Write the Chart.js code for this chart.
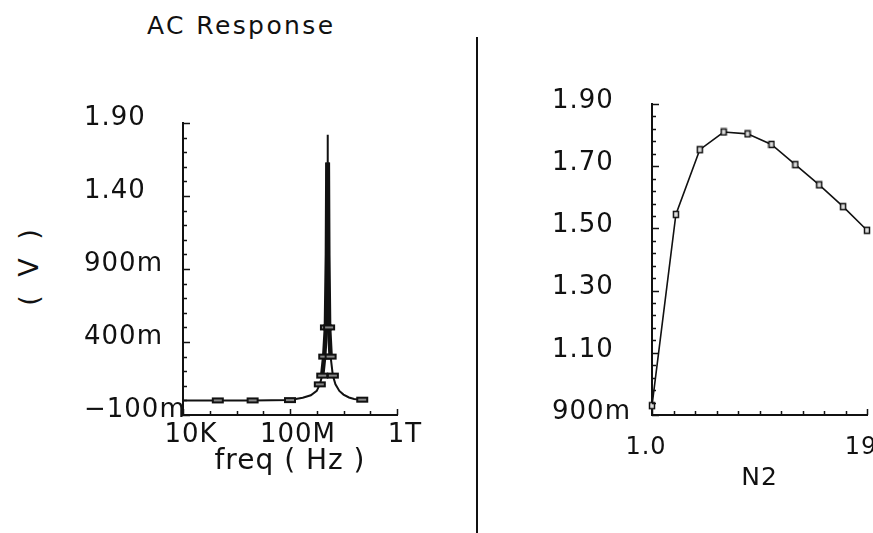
<!DOCTYPE html>
<html>
<head>
<meta charset="utf-8">
<script src="https://cdn.jsdelivr.net/npm/chart.js@4.4.1/dist/chart.umd.min.js"></script>
<style>
  body { margin: 0; background: #fff; width: 873px; height: 533px; position: relative; overflow: hidden;
         font-family: 'DejaVu Sans', sans-serif; color: #111; }
  #title { position: absolute; left: 147px; top: 11px; font-size: 25px; line-height: 30px; letter-spacing: 2.4px; }
  #ylabel { position: absolute; left: 28px; top: 265px; font-size: 27px; letter-spacing: 5px; white-space: pre;
            transform: translate(-50%, -50%) rotate(-90deg); }
  #divider { position: absolute; left: 476px; top: 37px; width: 2px; height: 496px; background: #111; }
  #ac-chart { position: absolute; left: 0; top: 0; }
  #n2-chart { position: absolute; left: 480px; top: 0; }
</style>
</head>
<body>
<div id="title">AC Response</div>
<div id="ylabel">( V )</div>
<div id="divider"></div>
<canvas id="ac-chart" width="470" height="533"></canvas>
<canvas id="n2-chart" width="393" height="533"></canvas>
<script>
// AC sweep: frequency (Hz) and output voltage (V)
const freqHz  = [1e4, 2e5, 4e6, 1e8, 3e8, 6e8, 1.0e9, 1.3e9, 1.6e9, 1.9e9, 2.2e9, 2.4e9, 2.5e9,
                 2.55e9, 2.6e9, 2.7e9, 2.9e9, 3.3e9, 4.0e9, 5e9, 7e9, 1e10, 1.6e10, 2.5e10, 5e10];
const acVolts = [0.0, 0.0, 0.0, 0.002, 0.018, 0.035, 0.065, 0.11, 0.17, 0.30, 0.50, 1.0, 1.63,
                 1.82, 1.63, 1.0, 0.50, 0.30, 0.17, 0.11, 0.065, 0.04, 0.02, 0.01, 0.005];
// sweep points that carry a marker
const acMarked = [2e5, 4e6, 1e8, 1.3e9, 1.6e9, 1.9e9, 2.2e9, 2.9e9, 3.3e9, 4.0e9, 5e10];
// band around the resonance drawn with a heavier trace
const acHeavyBand = [1.5e9, 3.5e9];

const freqTicks      = [1e4, 1e5, 1e6, 1e7, 1e8, 1e9, 1e10, 1e11, 1e12];
const freqTickLabels = ['10K', '', '', '', '100M', '', '', '', '1T'];
const acVoltTicks    = [1.9, 1.4, 0.9, 0.4, -0.1];
const acVoltLabels   = ['1.90', '1.40', '900m', '400m', '\u2212100m'];

// peak voltage vs N2
const n2Values = [1, 3, 5, 7, 9, 11, 13, 15, 17, 19];
const n2Volts  = [0.93, 1.545, 1.753, 1.81, 1.804, 1.77, 1.705, 1.64, 1.57, 1.494];
const n2Ticks       = [1, 19];
const n2TickLabels  = ['1.0', '19'];
const n2VoltTicks   = [1.9, 1.7, 1.5, 1.3, 1.1, 0.9];
const n2VoltLabels  = ['1.90', '1.70', '1.50', '1.30', '1.10', '900m'];

Chart.defaults.font.family = "'DejaVu Sans', sans-serif";
Chart.defaults.font.size = 26;
Chart.defaults.color = '#111';

function lookup(values, labels, v) {
  const i = values.findIndex(t => Math.abs(t - v) < 1e-6 * Math.max(1, Math.abs(t)));
  return i >= 0 ? labels[i] : '';
}

// hollow rectangle used as point marker
function makeMarker(w, h, lw, fill) {
  const c = document.createElement('canvas');
  c.width = w + 2 * lw;
  c.height = h + 2 * lw;
  const g = c.getContext('2d');
  g.fillStyle = fill;
  g.fillRect(lw, lw, w, h);
  g.strokeStyle = '#111';
  g.lineWidth = lw;
  g.strokeRect(lw, lw, w, h);
  return c;
}

// tick marks pointing into the plot, longer where a label sits
const inwardTicks = {
  id: 'inwardTicks',
  afterDraw(chart) {
    const {ctx, chartArea, scales} = chart;
    ctx.save();
    ctx.strokeStyle = '#111';
    ctx.lineWidth = 1.5;
    ctx.beginPath();
    scales.y.ticks.forEach(t => {
      const y = Math.round(scales.y.getPixelForValue(t.value)) + 0.5;
      const len = t.label ? 7 : 4;
      ctx.moveTo(chartArea.left, y);
      ctx.lineTo(chartArea.left + len, y);
    });
    scales.x.ticks.forEach(t => {
      const x = Math.round(scales.x.getPixelForValue(t.value)) + 0.5;
      const len = t.label ? 6 : 4;
      ctx.moveTo(x, chartArea.bottom);
      ctx.lineTo(x, chartArea.bottom - len);
    });
    ctx.stroke();
    ctx.restore();
  }
};

const textSpacing = {
  id: 'textSpacing',
  beforeDraw(chart) { chart.ctx.letterSpacing = '1px'; }
};

const axisBorder = { display: true, color: '#111', width: 2 };

function inHeavyBand(ctx) {
  const a = freqHz[ctx.p0DataIndex], b = freqHz[ctx.p1DataIndex];
  const low = Math.max(acVolts[ctx.p0DataIndex], acVolts[ctx.p1DataIndex]) <= 1.63;
  return a >= acHeavyBand[0] && b <= acHeavyBand[1] && low;
}

// left: AC response
new Chart(document.getElementById('ac-chart'), {
  type: 'line',
  data: {
    datasets: [{
      data: freqHz.map((f, i) => ({ x: f, y: acVolts[i] })),
      borderColor: '#111',
      borderWidth: 2,
      tension: 0,
      segment: { borderWidth: ctx => inHeavyBand(ctx) ? 4.5 : 2 },
      pointStyle: makeMarker(10, 4, 2, '#888'),
      pointRadius: ctx => acMarked.includes(freqHz[ctx.dataIndex]) ? 5 : 0,
      pointHoverRadius: 0,
      clip: 12
    }]
  },
  plugins: [inwardTicks, textSpacing],
  options: {
    responsive: false,
    animation: false,
    events: [],
    layout: { padding: { left: 84, top: 123, right: 73, bottom: 0 } },
    plugins: { legend: { display: false }, tooltip: { enabled: false } },
    scales: {
      x: {
        type: 'logarithmic',
        min: 1e4,
        max: 1e12,
        grid: { display: false },
        border: axisBorder,
        afterBuildTicks: s => { s.ticks = freqTicks.map(v => ({ value: v })); },
        afterFit: s => { s.height = 118; s.paddingLeft = 0; s.paddingRight = 0; },
        ticks: {
          autoSkip: false, maxRotation: 0, padding: -3, labelOffset: 8,
          callback: v => lookup(freqTicks, freqTickLabels, v)
        },
        title: { display: true, text: 'freq ( Hz )', font: { size: 28 }, padding: { top: 0, bottom: 54 } }
      },
      y: {
        min: -0.1,
        max: 1.9,
        grid: { display: false },
        border: axisBorder,
        afterFit: s => { s.width = 99; s.paddingTop = 0; s.paddingBottom = 0; },
        ticks: {
          stepSize: 0.1, autoSkip: false, crossAlign: 'far', labelOffset: -5,
          callback: v => lookup(acVoltTicks, acVoltLabels, v)
        }
      }
    }
  }
});

// right: voltage vs N2
new Chart(document.getElementById('n2-chart'), {
  type: 'line',
  data: {
    datasets: [{
      data: n2Values.map((n, i) => ({ x: n, y: n2Volts[i] })),
      borderColor: '#111',
      borderWidth: 1.6,
      tension: 0,
      pointStyle: makeMarker(5, 6, 1.5, '#ddd'),
      pointRadius: 4,
      pointHoverRadius: 0,
      clip: 10
    }]
  },
  plugins: [inwardTicks, textSpacing],
  options: {
    responsive: false,
    animation: false,
    events: [],
    layout: { padding: { left: 72, top: 104, right: 6, bottom: 0 } },
    plugins: { legend: { display: false }, tooltip: { enabled: false } },
    scales: {
      x: {
        type: 'linear',
        min: 1,
        max: 19,
        grid: { display: false },
        border: axisBorder,
        afterFit: s => { s.height = 118; s.paddingLeft = 0; s.paddingRight = 0; },
        ticks: {
          stepSize: 1.8, autoSkip: false, maxRotation: 0, padding: 10, labelOffset: -6,
          font: { size: 24 },
          callback: v => lookup(n2Ticks, n2TickLabels, v)
        },
        title: { display: true, text: 'N2', font: { size: 25 }, padding: { top: 0, bottom: 40 } }
      },
      y: {
        min: 0.9,
        max: 1.9,
        grid: { display: false },
        border: axisBorder,
        afterFit: s => { s.width = 100; s.paddingTop = 0; s.paddingBottom = 0; },
        ticks: {
          stepSize: 0.04, autoSkip: false, crossAlign: 'far', labelOffset: -3,
          callback: v => lookup(n2VoltTicks, n2VoltLabels, v)
        }
      }
    }
  }
});
</script>
</body>
</html>
